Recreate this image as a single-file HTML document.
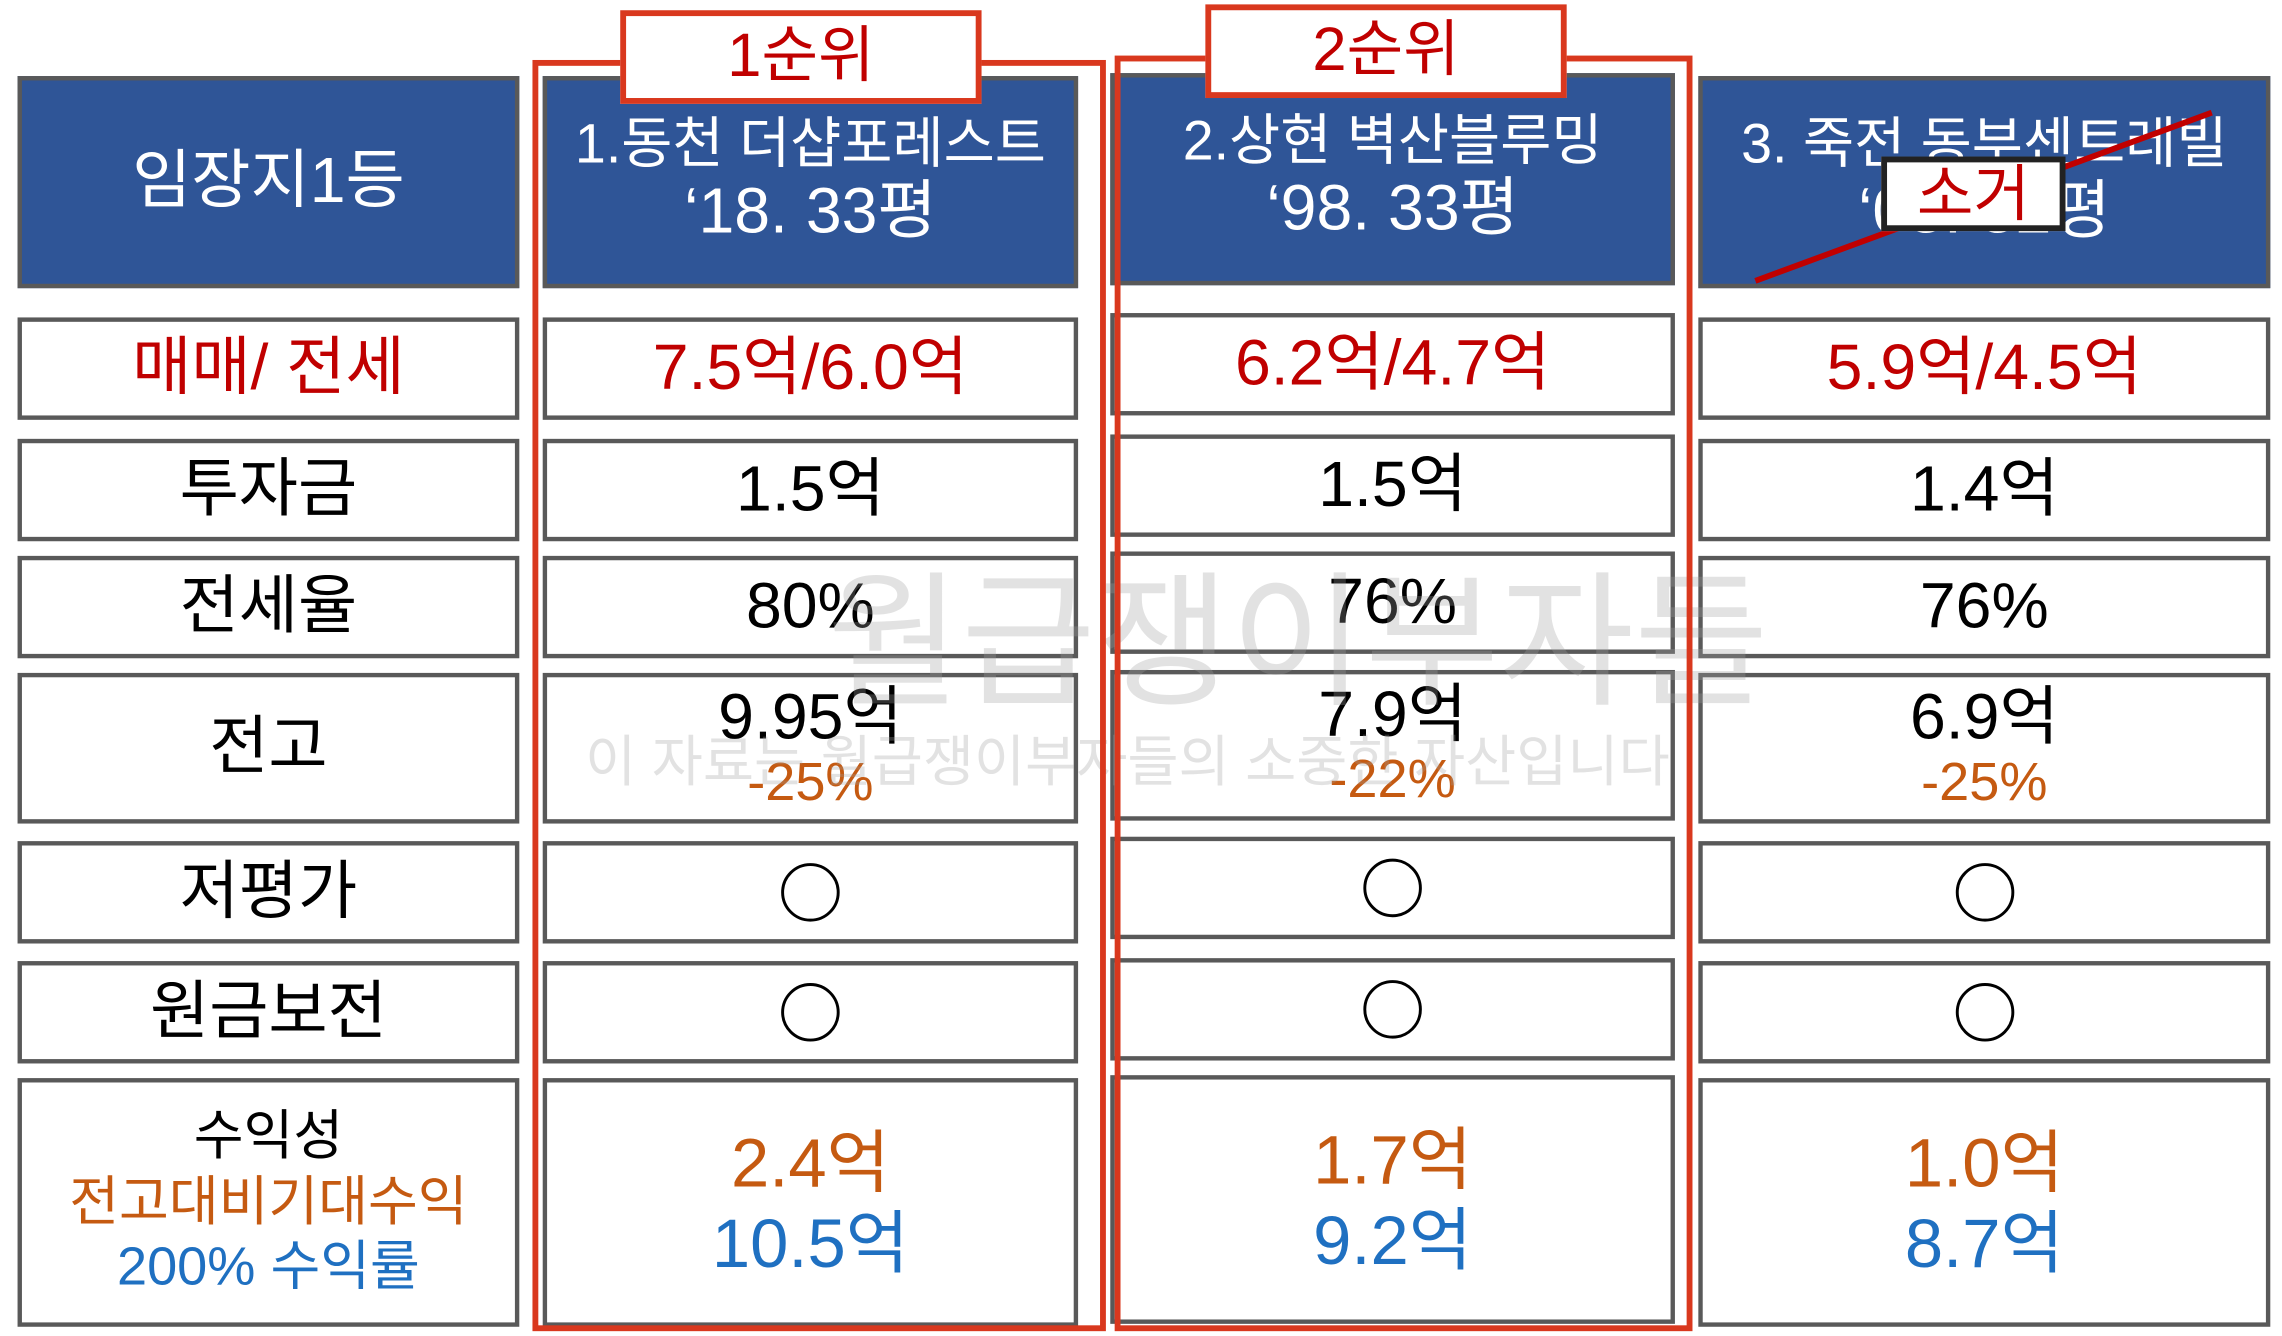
<!DOCTYPE html>
<html><head><meta charset="utf-8"><style>
html,body{margin:0;padding:0;background:#fff;width:2282px;height:1336px;overflow:hidden}
#s{position:absolute;left:0;top:0;width:1560px;height:913px;transform:scale(1.46282);transform-origin:0 0;font-family:"Liberation Sans","Noto Sans CJK KR",sans-serif}
.c{position:absolute;box-sizing:border-box;border:3.5px solid #595959;background:#fff;display:flex;flex-direction:column;align-items:center;justify-content:center;text-align:center;line-height:1.1}
.h{background:#2F5597;color:#fff;font-size:38px}
.r{color:#C00000;font-size:44px}
.k{color:#000;font-size:44px}
.o{color:#C55A11}.b{color:#1F70C1}
.circ{width:36px;height:36px;border:2px solid #000;border-radius:50%}
.red{position:absolute;box-sizing:border-box;border:4px solid #D9381E}
.lab{position:absolute;box-sizing:border-box;border:4px solid #D9381E;background:#fff;color:#C00000;font-size:42px;text-align:center;line-height:54px}
.wm{position:absolute;color:rgba(160,160,160,0.3);white-space:nowrap}
</style></head><body>
<div id="s">
<div class="c h" style="left:12px;top:52px;width:343px;height:145px;font-size:44px">임장지1등</div>
<div class="c h" style="left:371px;top:52px;width:366px;height:145px"><div>1.동천 더샵포레스트</div><div style="font-size:44px">‘18. 33평</div></div>
<div class="c h" style="left:759px;top:50px;width:386px;height:145px"><div>2.상현 벽산블루밍</div><div style="font-size:44px">‘98. 33평</div></div>
<div class="c h" style="left:1161px;top:52px;width:391px;height:145px"><div>3. 죽전 동부센트레빌</div><div style="font-size:44px">‘03. 32평</div></div>
<svg style="position:absolute;left:0;top:0" width="1560" height="913"><line x1="1200" y1="192" x2="1512" y2="77" stroke="#C00000" stroke-width="4"/></svg>
<div class="lab" style="left:1286px;top:107px;width:126px;height:51px;border-color:#222;line-height:44px;font-size:42px">소거</div>

<div class="c r" style="left:12px;top:217px;width:343px;height:70px">매매/ 전세</div>
<div class="c r" style="left:371px;top:217px;width:366px;height:70px">7.5억/6.0억</div>
<div class="c r" style="left:759px;top:214px;width:386px;height:70px">6.2억/4.7억</div>
<div class="c r" style="left:1161px;top:217px;width:391px;height:70px">5.9억/4.5억</div>

<div class="c k" style="left:12px;top:300px;width:343px;height:70px">투자금</div>
<div class="c k" style="left:371px;top:300px;width:366px;height:70px">1.5억</div>
<div class="c k" style="left:759px;top:297px;width:386px;height:70px">1.5억</div>
<div class="c k" style="left:1161px;top:300px;width:391px;height:70px">1.4억</div>

<div class="c k" style="left:12px;top:380px;width:343px;height:70px">전세율</div>
<div class="c k" style="left:371px;top:380px;width:366px;height:70px">80%</div>
<div class="c k" style="left:759px;top:377px;width:386px;height:70px">76%</div>
<div class="c k" style="left:1161px;top:380px;width:391px;height:70px">76%</div>

<div class="c k" style="left:12px;top:460px;width:343px;height:103px">전고</div>
<div class="c k" style="left:371px;top:460px;width:366px;height:103px"><div>9.95억</div><div class="o" style="font-size:37px">-25%</div></div>
<div class="c k" style="left:759px;top:458px;width:386px;height:103px"><div>7.9억</div><div class="o" style="font-size:37px">-22%</div></div>
<div class="c k" style="left:1161px;top:460px;width:391px;height:103px"><div>6.9억</div><div class="o" style="font-size:37px">-25%</div></div>

<div class="c k" style="left:12px;top:575px;width:343px;height:70px">저평가</div>
<div class="c" style="left:371px;top:575px;width:366px;height:70px"><div class="circ"></div></div>
<div class="c" style="left:759px;top:572px;width:386px;height:70px"><div class="circ"></div></div>
<div class="c" style="left:1161px;top:575px;width:391px;height:70px"><div class="circ"></div></div>

<div class="c k" style="left:12px;top:657px;width:343px;height:70px">원금보전</div>
<div class="c" style="left:371px;top:657px;width:366px;height:70px"><div class="circ"></div></div>
<div class="c" style="left:759px;top:655px;width:386px;height:70px"><div class="circ"></div></div>
<div class="c" style="left:1161px;top:657px;width:391px;height:70px"><div class="circ"></div></div>

<div class="c" style="left:12px;top:737px;width:343px;height:170px;font-size:37px;line-height:1.2"><div>수익성</div><div class="o">전고대비기대수익</div><div class="b">200% 수익률</div></div>
<div class="c" style="left:371px;top:737px;width:366px;height:170px;font-size:47px;line-height:1.18"><div class="o">2.4억</div><div class="b">10.5억</div></div>
<div class="c" style="left:759px;top:735px;width:386px;height:170px;font-size:47px;line-height:1.18"><div class="o">1.7억</div><div class="b">9.2억</div></div>
<div class="c" style="left:1161px;top:737px;width:391px;height:170px;font-size:47px;line-height:1.18"><div class="o">1.0억</div><div class="b">8.7억</div></div>

<div class="wm" style="left:565px;top:358px;font-size:100px">월급쟁이부자들</div>
<div class="wm" style="left:400px;top:490px;font-size:38px">이 자료는 월급쟁이부자들의 소중한 자산입니다</div>

<div class="red" style="left:364px;top:41px;width:392px;height:869px"></div>
<div class="red" style="left:762px;top:38px;width:395px;height:872px"></div>
<div class="lab" style="left:424px;top:7px;width:247px;height:64px">1순위</div>
<div class="lab" style="left:824px;top:3px;width:247px;height:64px">2순위</div>
</div>
</body></html>
